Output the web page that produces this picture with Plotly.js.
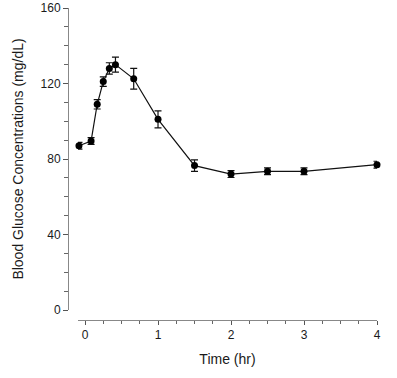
<!DOCTYPE html>
<html>
<head>
<meta charset="utf-8">
<script src="https://cdn.plot.ly/plotly-3.0.1.min.js"></script>
<style>html,body{margin:0;padding:0;background:#fff;}#chart{width:397px;height:378px;}</style>
</head>
<body>
<div id="chart"></div>
<script>
var timeHr = [-0.083, 0.083, 0.167, 0.25, 0.333, 0.417, 0.667, 1, 1.5, 2, 2.5, 3, 4];
var glucose = [87, 89.5, 109, 121, 128, 130, 122.5, 101, 76.5, 72, 73.5, 73.5, 77];
var glucoseErr = [1.8, 1.8, 2.5, 2.5, 3, 4, 5.5, 4.5, 3, 1.8, 1.8, 1.8, 1.8];
var xTickVals = [0, 1, 2, 3, 4];
var yTickVals = [0, 40, 80, 120, 160];

var trace = {
  x: timeHr, y: glucose, type: 'scatter', mode: 'lines+markers',
  line: {color: '#111', width: 1.2},
  marker: {color: '#000', size: 7, symbol: 'circle'},
  error_y: {type: 'data', array: glucoseErr, visible: true, color: '#111', thickness: 1.2, width: 3.5},
  showlegend: false, cliponaxis: false
};
var tickFnt = {family: 'Liberation Sans, Arial, sans-serif', size: 12, color: '#1a1a1a'};
var titleFnt = {family: 'Liberation Sans, Arial, sans-serif', size: 14, color: '#1a1a1a'};
var layout = {
  width: 397, height: 378,
  margin: {l: 68, r: 20, t: 8, b: 58},
  paper_bgcolor: '#fff', plot_bgcolor: '#fff',
  font: tickFnt,
  xaxis: {
    domain: [0.0324, 1], range: [-0.096, 4], anchor: 'free', position: 0,
    showgrid: false, zeroline: false, showline: true, linecolor: '#888', linewidth: 1,
    tickmode: 'array', tickvals: xTickVals, ticks: 'outside', ticklen: 4, tickcolor: '#555',
    minor: {dtick: 0.25, tick0: 0, ticks: 'outside', ticklen: 3, tickcolor: '#666'},
    tickfont: tickFnt,
    title: {text: 'Time (hr)', font: titleFnt, standoff: 12}
  },
  yaxis: {
    domain: [0.032, 1], range: [0, 160], anchor: 'free', position: 0,
    showgrid: false, zeroline: false, showline: true, linecolor: '#888', linewidth: 1,
    tickmode: 'array', tickvals: yTickVals, ticks: 'outside', ticklen: 5, tickcolor: '#555',
    minor: {dtick: 10, tick0: 0, ticks: 'outside', ticklen: 4, tickcolor: '#666'},
    tickfont: tickFnt,
    title: {text: 'Blood Glucose Concentrations (mg/dL)', font: titleFnt, standoff: 12}
  }
};
Plotly.newPlot('chart', [trace], layout, {displayModeBar: false, staticPlot: true});
</script>
</body>
</html>
